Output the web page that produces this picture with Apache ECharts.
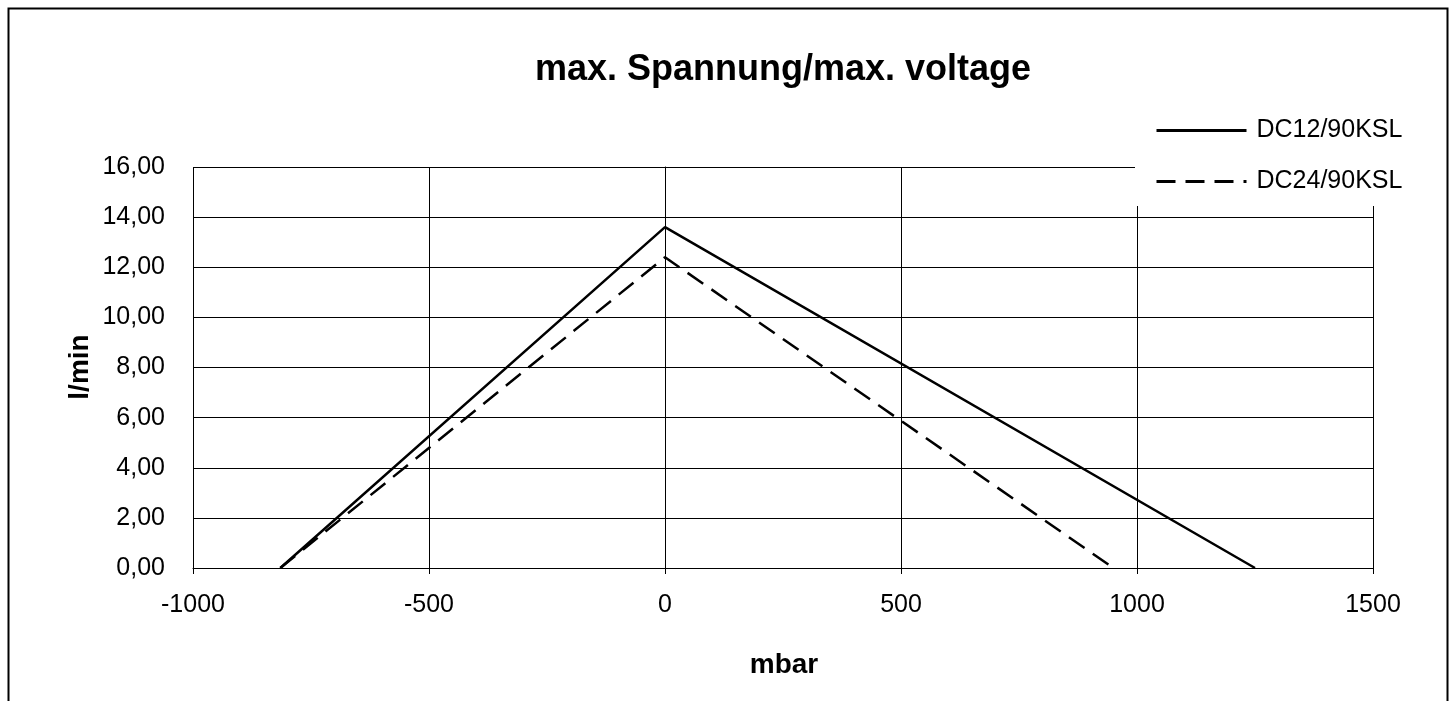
<!DOCTYPE html>
<html>
<head>
<meta charset="utf-8">
<script src="https://cdn.jsdelivr.net/npm/echarts@6/dist/echarts.min.js"></script>
<style>
  html, body { margin: 0; padding: 0; background: #fff; }
  #chart { width: 1453px; height: 701px; }
</style>
</head>
<body>
<div id="chart"></div>
<script>
// Werte
var seriesNames = ['DC12/90KSL', 'DC24/90KSL'];
var dc12 = [[-815, 0], [0, 13.6], [1250, 0]];
var dc24 = [[-815, 0], [0, 12.4], [950, 0]];
var xTicks = [-1000, 1500, 500];   // min, max, interval
var yTicks = [0, 16, 2];

var myChart = echarts.init(document.getElementById('chart'));

var font = 'Arial, "Liberation Sans", sans-serif';

option = {
    animation: false,
    backgroundColor: '#fff',
    legend: {
        orient: 'vertical',
        left: 1135,
        top: 106,
        padding: [12, 30, 12, 20],
        backgroundColor: '#fff',
        itemWidth: 90,
        itemHeight: 25,
        itemGap: 26,
        z: 10,
        itemStyle: { color: 'transparent', borderColor: 'transparent', borderWidth: 0 },
        lineStyle: { width: 3 },
        textStyle: { fontFamily: font, fontSize: 25, color: '#000', padding: [0, 0, 0, 5] },
        data: seriesNames
    },
    grid: { left: 193, right: 80, top: 167, bottom: 133, show: false },
    xAxis: {
        type: 'value',
        min: xTicks[0],
        max: xTicks[1],
        interval: xTicks[2],
        axisLine: { show: true, lineStyle: { color: '#000', width: 1 } },
        axisTick: { show: true, length: 6, lineStyle: { color: '#000' } },
        splitLine: { show: true, lineStyle: { color: '#000', width: 1 } },
        axisLabel: {
            fontFamily: font, fontSize: 25, color: '#000', margin: 25,
            formatter: function (v) { return String(v); }
        }
    },
    yAxis: {
        type: 'value',
        min: yTicks[0],
        max: yTicks[1],
        interval: yTicks[2],
        axisLine: { show: true, lineStyle: { color: '#000', width: 1 } },
        axisTick: { show: true, length: 5, lineStyle: { color: '#000' } },
        splitLine: { show: true, lineStyle: { color: '#000', width: 1 } },
        axisLabel: {
            fontFamily: font, fontSize: 25, color: '#000', margin: 28,
            formatter: function (v) { return v.toFixed(2).replace('.', ','); }
        }
    },
    graphic: [
        {
            type: 'rect', left: 6, top: 6, z: 100,
            shape: { width: 1439, height: 700 },
            style: { fill: 'none', stroke: '#000', lineWidth: 2 }
        },
        {
            type: 'text', x: 783, y: 70, z: 100,
            style: { text: 'max. Spannung/max. voltage', font: 'bold 36px ' + font, fill: '#000', align: 'center', verticalAlign: 'middle' }
        },
        {
            type: 'text', x: 784, y: 665, z: 100,
            style: { text: 'mbar', font: 'bold 28px ' + font, fill: '#000', align: 'center', verticalAlign: 'middle' }
        },
        {
            type: 'text', x: 80, y: 367, rotation: Math.PI / 2, z: 100,
            style: { text: 'l/min', font: 'bold 28px ' + font, fill: '#000', align: 'center', verticalAlign: 'middle' }
        }
    ],
    series: [{
        name: seriesNames[0],
        type: 'line',
        symbol: 'none',
        lineStyle: { color: '#000', width: 2.5 },
        itemStyle: { color: '#000' },
        data: dc12
    }, {
        name: seriesNames[1],
        type: 'line',
        symbol: 'none',
        lineStyle: { color: '#000', width: 2.5, type: [19, 10] },
        itemStyle: { color: '#000' },
        data: dc24
    }]
};

myChart.setOption(option);
</script>
</body>
</html>
